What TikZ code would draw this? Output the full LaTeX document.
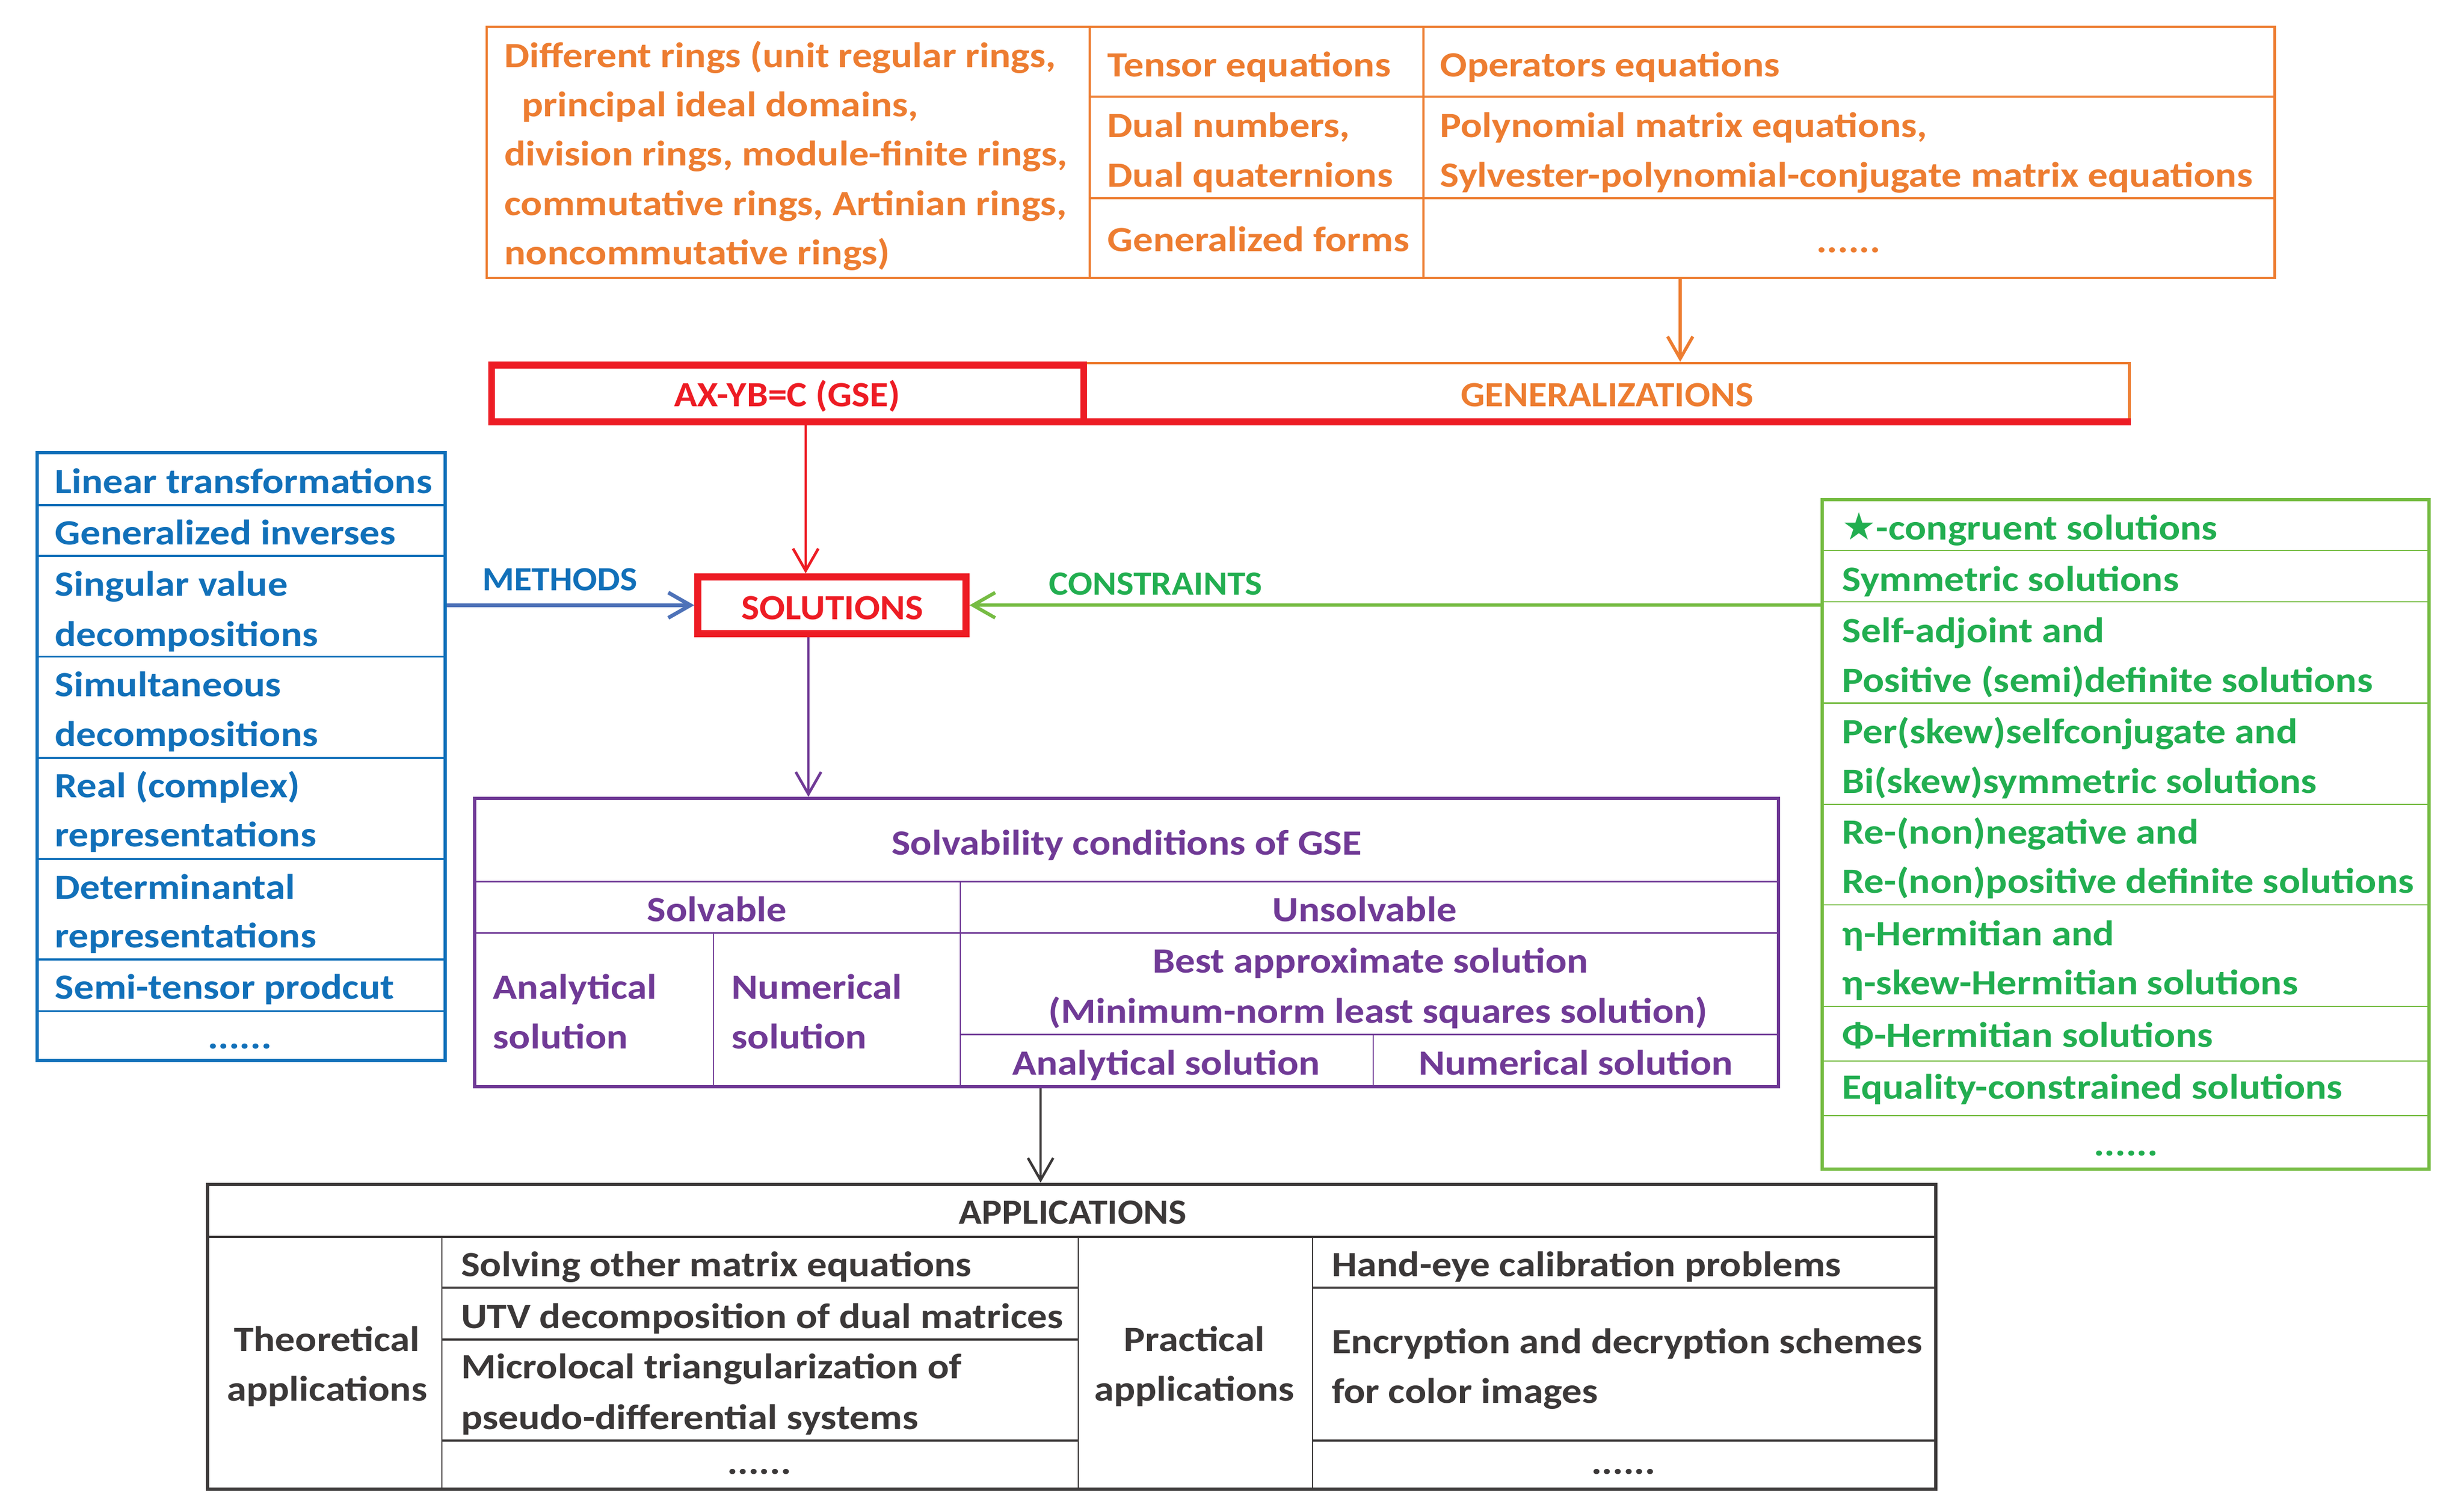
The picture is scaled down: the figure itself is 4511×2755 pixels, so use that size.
\documentclass[tikz,border=0pt]{standalone}
\usepackage{fontspec}
\setmainfont{Carlito}[FakeStretch=1.125]
\newfontfamily\capfont{Carlito}[FakeStretch=1.07]
\newfontfamily\starfont{DejaVu Sans}
\usetikzlibrary{arrows.meta,fit}
\definecolor{orng}{RGB}{237,125,49}
\definecolor{gred}{RGB}{237,28,36}
\definecolor{mblue}{RGB}{17,112,185}
\definecolor{arrblue}{RGB}{78,114,184}
\definecolor{cgreen}{RGB}{34,174,80}
\definecolor{lgreen}{RGB}{118,188,67}
\definecolor{purp}{RGB}{112,58,150}
\definecolor{dgray}{RGB}{59,56,56}

\begin{document}
\begin{tikzpicture}[x=0.3458pt, y=-0.3458pt,
  txt/.style={font=\fontsize{22.5}{27}\selectfont\bfseries, inner sep=0pt},
  lt/.style={txt, anchor=base west},
  ct/.style={txt, anchor=base},
  capt/.style={ct, font=\capfont\fontsize{22.5}{27}\selectfont\bfseries},
  lab/.style={ct, font=\capfont\fontsize{21.5}{27}\selectfont\bfseries},
  tbl/.style={inner sep=0pt, draw},
  arr/.style={-{Straight Barb[length=14pt,width=16pt]}}]
 \fill[white] (0,0) rectangle (4511,2755);
 \useasboundingbox (0,0) rectangle (4511,2755);

 % generalizations
 \node[tbl, draw=orng, line width=1.7pt, fit={(891,49) (4164,509)}] (rings) {};
 \draw[orng, line width=1.1pt] (1995,49) -- (1995,509) (2606,49) -- (2606,509)
   (1995,177) -- (4164,177) (1995,363) -- (4164,363);
 \node[lt, text=orng] (r1) at (923,123) {Different rings (unit regular rings,};
 \node[lt, text=orng] (r2) at (955,213) {principal ideal domains,};
 \node[lt, text=orng] (r3) at (923,303) {division rings, module-finite rings,};
 \node[lt, text=orng] (r4) at (923,394) {commutative rings, Artinian rings,};
 \node[lt, text=orng] (r5) at (923,484) {noncommutative rings)};
 \node[lt, text=orng] (t1) at (2027,140.5) {Tensor equations};
 \node[lt, text=orng] (t2) at (2027,251) {Dual numbers,};
 \node[lt, text=orng] (t3) at (2027,342) {Dual quaternions};
 \node[lt, text=orng] (t4) at (2027,460) {Generalized forms};
 \node[lt, text=orng] (o1) at (2636,140.5) {Operators equations};
 \node[lt, text=orng] (o2) at (2636,251) {Polynomial matrix equations,};
 \node[lt, text=orng] (o3) at (2636,342) {Sylvester-polynomial-conjugate matrix equations};
 \node[ct, text=orng] (o4) at (3384,462) {......};

 \node[tbl, draw=orng, line width=1.7pt, fit={(1984,665) (3898,772)}] (gen) {};
 \draw[gred, line width=4.4pt] (900,772.7) -- (3901,772.7);
 \node[tbl, draw=gred, line width=4.4pt, fit={(900,668.3) (1984,772.7)}] (gse) {};
 \node[capt, text=gred] (gsetxt) at (1441,744.5) {AX-YB=C (GSE)};
 \node[capt, text=orng] (gentxt) at (2942,744.5) {GENERALIZATIONS};

 \node[tbl, draw=gred, line width=4.5pt, fit={(1277.5,1056.5) (1768.5,1160)}] (sol) {};
 \node[capt, text=gred] (soltxt) at (1524,1134) {SOLUTIONS};

 % methods
 \node[tbl, draw=mblue, line width=2pt, fit={(68,829) (815,1942)}] (meths) {};
 \foreach \yy in {925,1018,1202.5,1388,1573,1757,1851.5}
   \draw[mblue, line width=1.2pt] (68,\yy) -- (815,\yy);
 \foreach \t/\yy [count=\i] in {Linear transformations/903, Generalized inverses/997,
   Singular value/1091, decompositions/1183, Simultaneous/1275, decompositions/1366,
   Real (complex)/1460, representations/1550, Determinantal/1646, representations/1735,
   Semi-tensor prodcut/1829}
   \node[lt, text=mblue] (m\i) at (100,\yy) {\t};
 \node[ct, text=mblue] (m12) at (439,1920) {......};

 % constraints
 \node[tbl, draw=lgreen, line width=2pt, fit={(3336,915) (4447,2141)}] (cons) {};
 \foreach \yy in {1008,1102,1287.5,1473,1657,1843,1943,2043}
   \draw[lgreen, line width=1pt] (3336,\yy) -- (4447,\yy);
 \node[lt, text=cgreen] (c0) at (3372,988) {{\starfont\mdseries\fontsize{24}{24}\selectfont ★}-congruent solutions};
 \foreach \t/\yy [count=\i] in {Symmetric solutions/1082, Self-adjoint and/1176,
   Positive (semi)definite solutions/1267, Per(skew)selfconjugate and/1361,
   Bi(skew)symmetric solutions/1452, Re-(non)negative and/1545,
   Re-(non)positive definite solutions/1635, η-Hermitian and/1731,
   η-skew-Hermitian solutions/1821, Φ-Hermitian solutions/1917,
   Equality-constrained solutions/2012}
   \node[lt, text=cgreen] (c\i) at (3372,\yy) {\t};
 \node[ct, text=cgreen] (c12) at (3892,2116) {......};

 % solvability
 \node[tbl, draw=purp, line width=2pt, fit={(869,1462) (3256,1990)}] (solv) {};
 \draw[purp, line width=1pt] (869,1614.6) -- (3256,1614.6) (869,1708.3) -- (3256,1708.3)
   (1758,1894.7) -- (3256,1894.7) (1758,1614.6) -- (1758,1990)
   (1306,1708.3) -- (1306,1990) (2514,1894.7) -- (2514,1990);
 \node[ct, text=purp] (s1) at (2062.5,1565) {Solvability conditions of GSE};
 \node[ct, text=purp] (s2) at (1312.5,1687) {Solvable};
 \node[ct, text=purp] (s3) at (2498,1687) {Unsolvable};
 \node[lt, text=purp] (s4) at (902,1829) {Analytical};
 \node[lt, text=purp] (s5) at (902,1920) {solution};
 \node[lt, text=purp] (s6) at (1339,1829) {Numerical};
 \node[lt, text=purp] (s7) at (1339,1920) {solution};
 \node[ct, text=purp] (s8) at (2509,1781) {Best approximate solution};
 \node[ct, text=purp] (s9) at (2523,1873) {(Minimum-norm least squares solution)};
 \node[ct, text=purp] (s10) at (2135,1968.5) {Analytical solution};
 \node[ct, text=purp] (s11) at (2885,1968.5) {Numerical solution};

 % applications
 \node[tbl, draw=dgray, line width=2.3pt, fit={(380,2169) (3544,2727)}] (apps) {};
 \draw[dgray, line width=1.1pt] (380,2265) -- (3544,2265)
   (809,2358) -- (1974,2358) (809,2453) -- (1974,2453) (809,2638) -- (1974,2638)
   (2403,2358) -- (3544,2358) (2403,2638) -- (3544,2638);
 \draw[dgray, line width=0.8pt] (809,2265) -- (809,2727) (1974,2265) -- (1974,2727)
   (2403,2265) -- (2403,2727);
 \node[capt, text=dgray] (a0) at (1964,2241) {APPLICATIONS};
 \node[ct, text=dgray] (a1) at (598.6,2474) {Theoretical};
 \node[ct, text=dgray] (a2) at (598.6,2565) {applications};
 \node[lt, text=dgray] (a3) at (843.5,2337) {Solving other matrix equations};
 \node[lt, text=dgray] (a4) at (843.5,2432) {UTV decomposition of dual matrices};
 \node[lt, text=dgray] (a5) at (843.5,2524) {Microlocal triangularization of};
 \node[lt, text=dgray] (a6) at (843.5,2617) {pseudo-differential systems};
 \node[ct, text=dgray] (a7) at (1390,2699) {......};
 \node[ct, text=dgray] (a8) at (2186.5,2474) {Practical};
 \node[ct, text=dgray] (a9) at (2186.5,2565) {applications};
 \node[lt, text=dgray] (a10) at (2437.5,2337) {Hand-eye calibration problems};
 \node[lt, text=dgray] (a11) at (2437.5,2478) {Encryption and decryption schemes};
 \node[lt, text=dgray] (a12) at (2437.5,2569) {for color images};
 \node[ct, text=dgray] (a13) at (2972,2699) {......};

 % arrows
 \coordinate (ga) at (3076,0);
 \coordinate (ra) at (1475,0);
 \coordinate (pa) at (1480,0);
 \coordinate (da) at (1905,0);
 \draw[arr, orng, line width=2pt] (rings.south -| ga) -- (gen.north -| ga);
 \draw[arr, gred, line width=1.7pt] (gse.south -| ra) -- (sol.north -| ra);
 \draw[arr, arrblue, line width=2.4pt] (meths.east |- sol.west) -- (sol.west);
 \draw[arr, lgreen, line width=2.2pt] (cons.west |- sol.east) -- (sol.east);
 \draw[arr, purp, line width=1.7pt] (sol.south -| pa) -- (solv.north -| pa);
 \draw[arr, dgray, line width=1.6pt] (solv.south -| da) -- (apps.north -| da);
 \node[lab, text=mblue] (mlab) at (1025,1081) {METHODS};
 \node[lab, text=cgreen] (clab) at (2116,1089) {CONSTRAINTS};
\end{tikzpicture}
\end{document}
